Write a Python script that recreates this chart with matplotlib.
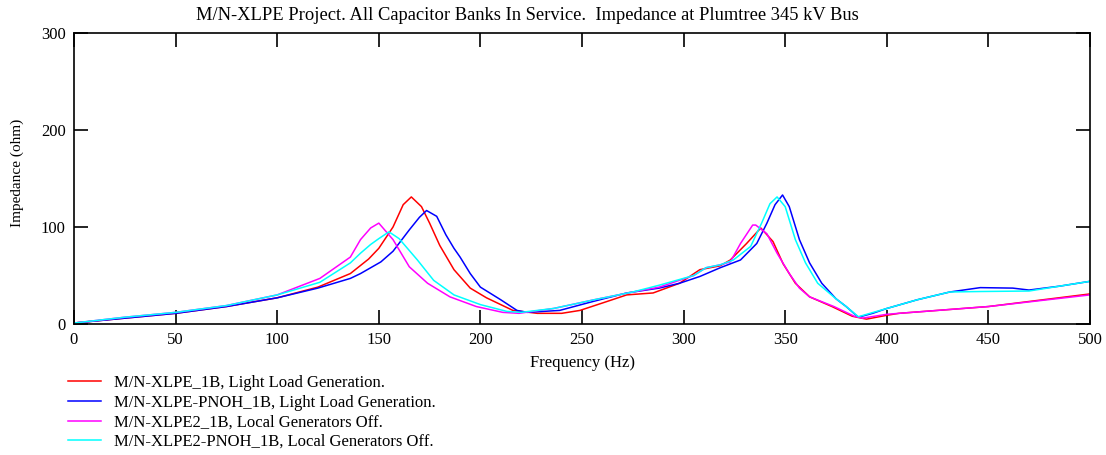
import matplotlib
matplotlib.use("Agg")
from matplotlib import pyplot as plt

plt.rcParams['font.family'] = ['Liberation Serif', 'DejaVu Serif']

# M/N-XLPE_1B, Light Load Generation
f_red = [0, 25, 50, 75, 100, 120, 136, 145, 150, 157, 162, 166, 171, 175, 180, 187, 195, 203,
         216, 228, 240, 249, 262, 272, 285, 298, 308, 318, 323, 331, 338, 344, 349, 355, 362,
         373, 383, 390, 400, 406, 450, 500]
z_red = [1, 6, 11, 18, 27, 38, 52, 67, 78, 100, 123, 131, 121, 104, 81, 56, 37, 27,
         14, 11, 11, 14, 23, 30, 32, 42, 56, 60, 66, 83, 99, 85, 62, 42, 28,
         18, 8, 5, 9, 11, 18, 31]

# M/N-XLPE-PNOH_1B, Light Load Generation
f_blue = [0, 25, 50, 75, 100, 120, 136, 141, 151, 157, 165, 170, 173.5, 178.5, 183, 187, 190,
          195, 200, 210, 218, 223, 239, 255, 272, 288, 298, 308, 318, 328, 336, 341, 345, 348.7,
          352, 357, 362, 368, 375, 380, 386, 393, 400, 415, 431, 446, 462, 470, 485, 500]
z_blue = [1, 6, 11, 18, 27, 37, 47, 52, 64, 75, 97, 110, 117, 111, 92, 78, 69,
          52, 38, 25, 14, 12, 14, 23, 32, 37, 42, 49, 58, 66, 83, 104, 123, 133,
          121, 87, 63, 42, 26, 18, 7, 11, 16, 25, 33, 37.5, 37, 35, 39, 44]

# M/N-XLPE2_1B, Local Generators Off
f_mag = [0, 25, 50, 75, 100, 121, 136, 141, 146, 150, 157, 165, 174, 185, 198, 211, 219, 236,
         256, 275, 288, 305, 311, 318, 323, 328, 334, 335.5, 341, 346, 352, 357, 362, 374, 384,
         388, 400, 406, 450, 500]
z_mag = [1, 7, 12, 19, 30, 47, 69, 87, 99, 104, 87, 59, 42, 28, 18, 12, 11, 16,
         25, 33, 38, 50, 58, 61, 64, 83, 102, 102, 93, 73, 52, 37, 28, 18, 8,
         6, 10, 11, 18, 30]

# M/N-XLPE2-PNOH_1B, Local Generators Off
f_cyan = [0, 25, 50, 75, 100, 121, 136, 141, 146, 150, 155, 160, 169, 177, 187, 200, 213, 220,
          236, 256, 275, 288, 305, 311, 318, 324.5, 333, 338.4, 342.5, 346, 350, 355, 360, 366,
          375, 380, 386, 400, 415, 431, 446, 470, 500]
z_cyan = [1, 7, 12, 19, 30, 43, 63, 73, 82, 88, 95, 88, 66, 45, 30, 20, 13, 12,
          16, 25, 33, 40, 50, 58, 61, 66, 80, 104, 124, 131, 121, 87, 63, 42,
          26, 18, 7.5, 16, 25, 33, 33.5, 34, 44]

labels = ['M/N-XLPE_1B, Light Load Generation.',
          'M/N-XLPE-PNOH_1B, Light Load Generation.',
          'M/N-XLPE2_1B, Local Generators Off.',
          'M/N-XLPE2-PNOH_1B, Local Generators Off.']

fig = plt.figure(figsize=(11.06, 4.55), dpi=100)
ax = fig.add_axes([74 / 1106, 1 - 324 / 455, (1090 - 74) / 1106, (324 - 33) / 455])

ax.plot(f_red, z_red, color='#ff0000', lw=1.1, label=labels[0])
ax.plot(f_blue, z_blue, color='#0000ff', lw=1.1, label=labels[1])
ax.plot(f_mag, z_mag, color='#ff00ff', lw=1.1, label=labels[2])
ax.plot(f_cyan, z_cyan, color='#00ffff', lw=1.1, label=labels[3])

ax.set_xlim(0, 500)
ax.set_ylim(0, 300)
ax.set_xticks(range(0, 501, 50))
ax.set_yticks([0, 100, 200, 300])
ax.tick_params(direction='in', length=10, width=1.2, top=True, right=True,
               labelsize=12, pad=6)
for s in ax.spines.values():
    s.set_linewidth(1.2)

fig.text(527 / 1106, 1 - 15 / 455, 'M/N-XLPE Project. All Capacitor Banks In Service.  '
         'Impedance at Plumtree 345 kV Bus', ha='center', va='center', fontsize=13.3)
fig.text(17 / 1106, 1 - 173 / 455, 'Impedance (ohm)', rotation=90, ha='center',
         va='center', fontsize=11)
fig.text(582 / 1106, 1 - 363 / 455, 'Frequency (Hz)', ha='center', va='center', fontsize=12)

fig.legend(loc='upper left', bbox_to_anchor=(68 / 1106, 1 - 375 / 455), frameon=False,
           fontsize=12, handlelength=2.0, handletextpad=0.75, labelspacing=0.22,
           borderpad=0, borderaxespad=0)

fig.savefig('out.png', dpi=100)
